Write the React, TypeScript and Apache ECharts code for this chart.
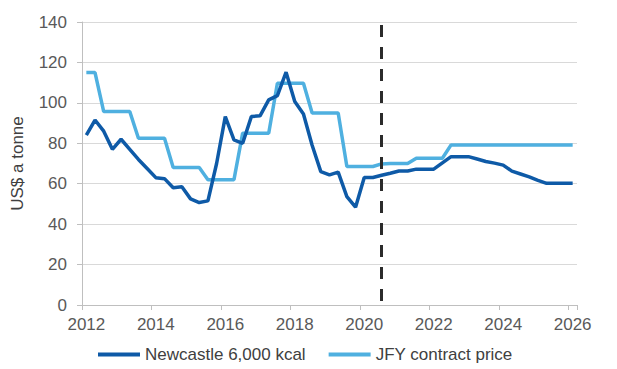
import React, { useEffect, useRef } from "react";
import * as echarts from "echarts";

const firstYear = 2012;
const lastYear = 2026;
// Quarterly categories 2012Q1 .. 2026Q1
const quarters: string[] = [];
for (let y = firstYear; y <= lastYear; y++) {
  for (let q = 1; q <= 4; q++) {
    if (y === lastYear && q > 1) break;
    quarters.push(`${y}Q${q}`);
  }
}

const newcastle = [
  84, 91.5, 86, 77, 82, 77, 72, 67.5, 63, 62.5,
  58, 58.5, 52.5, 50.7, 51.5, 70, 93.2, 81.7, 80, 93.2,
  93.6, 101.5, 103.6, 115.2, 100.7, 94.5, 79, 66, 64.4, 65.7,
  53.6, 48.4, 63.1, 63.1, 64.2, 65.2, 66.3, 66.3, 67.2, 67.2,
  67.2, 70.3, 73.4, 73.4, 73.4, 72.2, 71, 70.2, 69.2, 66.2,
  64.8, 63.4, 61.7, 60.2, 60.2, 60.2, 60.2,
];

const jfy = [
  115, 115, 95.7, 95.7, 95.7, 95.7, 82.5, 82.5, 82.5, 82.5,
  68, 68, 68, 68, 62, 62, 62, 62, 85, 85,
  85, 85, 109.7, 109.7, 109.7, 109.7, 95, 95, 95, 95,
  68.5, 68.5, 68.5, 68.5, 69.8, 70, 70, 70, 72.6, 72.6,
  72.6, 72.6, 79.2, 79.2, 79.2, 79.2, 79.2, 79.2, 79.2, 79.2,
  79.2, 79.2, 79.2, 79.2, 79.2, 79.2, 79.2,
];

const seriesNames = ["Newcastle 6,000 kcal", "JFY contract price"];
const forecastStart = "2020Q3";
const forecastLineTop = 138.5;
const yTicks = { min: 0, max: 140, interval: 20 };

const FONT = "'Liberation Sans', Arial, sans-serif";

export default function App() {
  const ref = useRef<HTMLDivElement>(null);
  useEffect(() => {
    if (!ref.current) return;
    const chart = echarts.init(ref.current, undefined, { renderer: "svg" });
    chart.setOption({
      animation: false,
      textStyle: { fontFamily: FONT },
      grid: { left: 82, right: 40, top: 22, bottom: 64 },
      legend: {
        left: 93,
        top: 341,
        icon: "rect",
        itemWidth: 42,
        itemHeight: 4,
        itemGap: 23,
        textStyle: { fontSize: 17, color: "#404040", fontFamily: FONT },
        data: seriesNames,
      },
      xAxis: {
        type: "category",
        data: quarters,
        boundaryGap: true,
        axisLine: { lineStyle: { color: "#bfbfbf", width: 1 } },
        axisTick: { show: true, interval: 7, length: 5, lineStyle: { color: "#bfbfbf" } },
        axisLabel: {
          interval: 7,
          formatter: (v: string) => v.slice(0, 4),
          fontSize: 17,
          color: "#595959",
          margin: 11,
          fontFamily: FONT,
        },
        splitLine: { show: false },
      },
      yAxis: {
        type: "value",
        min: yTicks.min,
        max: yTicks.max,
        interval: yTicks.interval,
        name: "US$ a tonne",
        nameLocation: "middle",
        nameGap: 56,
        nameTextStyle: { fontSize: 17, color: "#404040", fontFamily: FONT },
        axisLine: { show: true, lineStyle: { color: "#bfbfbf" } },
        axisTick: { show: true, length: 5, lineStyle: { color: "#bfbfbf" } },
        splitLine: { lineStyle: { color: "#d9d9d9", width: 1 } },
        axisLabel: { fontSize: 17, color: "#595959", margin: 15, fontFamily: FONT },
      },
      series: [
        {
          name: seriesNames[1],
          type: "line",
          data: jfy,
          symbol: "none",
          z: 2,
          lineStyle: { width: 3.5, color: "#4fb0e0" },
          itemStyle: { color: "#4fb0e0" },
        },
        {
          name: seriesNames[0],
          type: "line",
          data: newcastle,
          symbol: "none",
          z: 3,
          lineStyle: { width: 3.5, color: "#0e5aa7" },
          itemStyle: { color: "#0e5aa7" },
          markLine: {
            silent: true,
            symbol: "none",
            label: { show: false },
            lineStyle: { color: "#2b2b2b", width: 3, type: [12, 10] },
            data: [
              [
                { coord: [forecastStart, forecastLineTop] },
                { coord: [forecastStart, yTicks.min] },
              ],
            ],
          },
        },
      ],
    });
    return () => chart.dispose();
  }, []);
  return (
    <div
      ref={ref}
      style={{ position: "fixed", left: 0, top: 0, width: 617, height: 369, background: "#fff" }}
    />
  );
}
